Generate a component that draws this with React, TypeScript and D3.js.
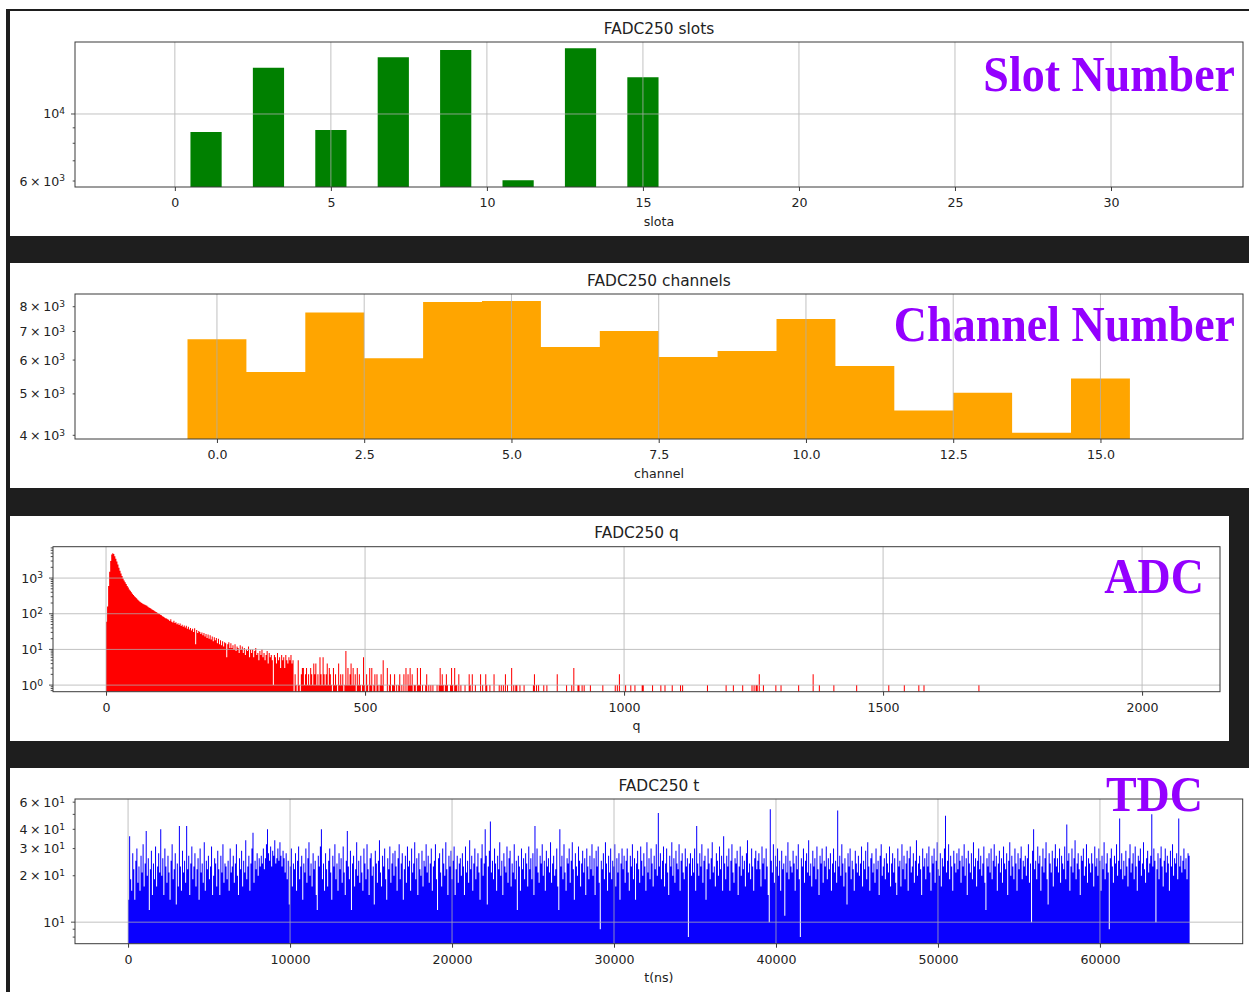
import React, { useEffect, useRef } from "react";
import * as d3 from "d3";

const W = 1249;
const H = 992;

// ---- values ----

// FADC250 slots (only odd slots have hits)
const slotIds = [1, 3, 5, 7, 9, 11, 13, 15];
const slotCounts = [8710, 14230, 8850, 15410, 16300, 6040, 16500, 13230];
const slotTicks = [0, 5, 10, 15, 20, 25, 30];
const slotYLabels = [6000, 10000];

// FADC250 channels
const channelIds = [0, 1, 2, 3, 4, 5, 6, 7, 8, 9, 10, 11, 12, 13, 14, 15];
const channelCounts = [6710, 5630, 7750, 6060, 8200, 8250, 6440, 7020, 6100, 6300, 7490, 5810, 4570, 5030, 4055, 5430];
const channelTicks = [0, 2.5, 5, 7.5, 10, 12.5, 15];
const channelYLabels = [4000, 5000, 6000, 7000, 8000];

// FADC250 q : bins of width 2 starting at q = 0
const adcBinWidth = 2;
const adcCounts = [
  60, 160, 600, 1500, 3000, 4600, 4950, 4700, 4100, 3500,
  2900, 2400, 1950, 1600, 1350, 1150, 980, 860, 760, 680,
  600, 540, 480, 440, 400, 365, 335, 310, 290, 270,
  250, 235, 220, 210, 200, 190, 185, 178, 172, 168,
  158, 150, 146, 139, 131, 128, 121, 116, 112, 107,
  101, 99, 94, 90, 85, 83, 78, 75, 74, 70,
  68, 63, 70, 60, 57, 64, 55, 58, 51, 54,
  48, 53, 45, 49, 43, 47, 41, 46, 38, 43,
  36, 40, 34, 38, 31, 39, 14, 35, 29, 33,
  31, 27, 30, 25, 29, 23, 27, 21, 26, 20,
  25, 19, 23, 17, 22, 18, 21, 15, 20, 14,
  18, 13, 17, 12, 16, 15, 6, 14, 16, 11,
  15, 11, 13, 10, 14, 9, 12, 11, 8, 13,
  10, 12, 8, 11, 7, 10, 9, 12, 6, 10,
  8, 10, 6, 9, 11, 7, 8, 5, 9, 7,
  10, 6, 8, 5, 7, 9, 4, 8, 6, 7,
  5, 1, 7, 6, 4, 8, 5, 6, 3, 7,
  5, 6, 3, 7, 5, 4, 6, 5, 7, 4, 5,
  0, 2, 1, 0, 5, 1, 0, 2, 3, 3,
  1, 2, 3, 1, 2, 1, 3, 2, 1, 4,
  2, 4, 1, 2, 1, 6, 2, 1, 6, 2,
  1, 2, 4, 1, 3, 2, 1, 0, 3, 1,
  2, 1, 0, 4, 1, 2, 1, 2, 0, 1,
  9, 1, 3, 1, 2, 4, 1, 3, 1, 2,
  0, 3, 1, 2, 1, 0, 1, 6, 1, 0,
  2, 1, 0, 3, 1, 3, 0, 1, 2, 0,
  2, 1, 0, 1,
];
// sparse tail above q = 530 : [q, count]
const adcTail = [
  [530, 2], [532, 1], [534, 5], [542, 3], [546, 1], [548, 2], [552, 1], [554, 1], [556, 2], [560, 1],
  [564, 1], [566, 2], [570, 1], [574, 2], [578, 3], [582, 2], [584, 1], [586, 3], [588, 1], [590, 2],
  [594, 1], [596, 1], [600, 3], [602, 1], [604, 1], [606, 3], [610, 1], [616, 1], [618, 2], [622, 1],
  [626, 1], [630, 1], [638, 1], [642, 1], [644, 3], [646, 1], [648, 2], [650, 1], [654, 1], [656, 2],
  [658, 1], [664, 1], [666, 3], [668, 1], [672, 3], [674, 1], [676, 1], [680, 2], [684, 1], [692, 1],
  [700, 2], [702, 1], [706, 2], [712, 1], [722, 2], [726, 1], [732, 2], [734, 1], [740, 1], [748, 2],
  [758, 1], [762, 1], [766, 1], [770, 2], [774, 1], [782, 3], [786, 1], [790, 1], [792, 1], [798, 1],
  [806, 1], [824, 1], [826, 2], [830, 1], [834, 1], [844, 1], [850, 1], [870, 2], [888, 1], [898, 1],
  [902, 3], [910, 1], [912, 1], [918, 1], [922, 1], [934, 1], [958, 1], [982, 1], [986, 1], [990, 2],
  [1002, 1], [1012, 1], [1020, 1], [1034, 1], [1036, 1], [1054, 1], [1070, 1], [1078, 1], [1092, 1], [1108, 1],
  [1112, 1], [1160, 1], [1196, 1], [1210, 1], [1228, 1], [1246, 1], [1250, 1], [1254, 1], [1256, 1], [1260, 2],
  [1268, 1], [1292, 1], [1302, 1], [1336, 1], [1364, 2], [1376, 1], [1404, 1], [1448, 1], [1510, 1], [1540, 1],
  [1568, 1], [1578, 1], [1684, 1],
];
const adcTicks = [0, 500, 1000, 1500, 2000];
const adcYLabels = [1, 10, 100, 1000];

// FADC250 t : 1024 bins of width 64 ns
const tdcBinWidth = 64;
const tdcCounts = [
  14, 36, 19, 16, 28, 22, 14, 25, 30, 18, 23, 16, 27, 21, 32, 17, 24, 39, 20, 26, 12, 22, 29, 15, 24, 19, 31, 17, 23, 28, 21, 40,
  20, 26, 15, 30, 23, 18, 27, 21, 14, 25, 32, 19, 22, 28, 13, 24, 17, 42, 23, 16, 29, 21, 25, 18, 42, 22, 27, 15, 24, 31, 19, 23,
  28, 17, 22, 26, 14, 30, 21, 24, 18, 33, 16, 25, 22, 27, 19, 23, 31, 15, 20, 26, 24, 17, 29, 22, 15, 27, 21, 32, 18, 24, 23, 19,
  25, 16, 30, 21, 23, 27, 18, 24, 32, 20, 15, 26, 22, 29, 17, 25, 21, 34, 19, 23, 27, 16, 24, 30, 38, 18, 25, 22, 28, 20, 26, 23,
  27, 24, 30, 22, 26, 32, 40, 28, 25, 31, 23, 29, 27, 34, 24, 26, 30, 25, 33, 27, 23, 29, 26, 21, 28, 19, 25, 13, 23, 30, 17, 24,
  22, 28, 16, 25, 31, 19, 23, 27, 14, 24, 21, 30, 18, 26, 33, 20, 24, 17, 28, 22, 25, 15, 12, 27, 23, 31, 40, 19, 24, 16, 28, 22,
  17, 25, 30, 21, 14, 27, 23, 32, 19, 24, 16, 28, 22, 26, 18, 31, 21, 15, 25, 39, 23, 19, 29, 12, 24, 27, 17, 22, 33, 20, 25, 18,
  27, 21, 16, 30, 24, 19, 32, 22, 15, 26, 28, 20, 23, 13, 29, 24, 18, 25, 34, 21, 17, 27, 23, 30, 19, 14, 26, 22, 31, 18, 24, 28,
  20, 29, 23, 16, 26, 32, 19, 24, 28, 14, 22, 27, 18, 31, 23, 25, 16, 30, 21, 24, 33, 19, 26, 15, 28, 22, 20, 29, 17, 25, 23, 32,
  21, 27, 18, 24, 30, 16, 23, 25, 32, 19, 12, 26, 28, 21, 17, 30, 24, 20, 33, 22, 15, 27, 23, 29, 19, 25, 31, 15, 22, 27, 18, 24,
  26, 20, 28, 23, 15, 31, 21, 25, 18, 34, 22, 27, 16, 24, 30, 19, 23, 28, 21, 14, 26, 32, 20, 24, 40, 27, 13, 23, 29, 45, 21, 25,
  19, 30, 24, 16, 27, 22, 33, 20, 25, 15, 28, 23, 21, 31, 18, 26, 29, 17, 24, 21, 32, 19, 25, 12, 27, 23, 16, 30, 22, 26, 19, 28,
  24, 17, 31, 22, 26, 19, 28, 15, 42, 23, 30, 21, 18, 27, 24, 32, 20, 25, 16, 29, 23, 26, 21, 33, 18, 24, 27, 20, 22, 30, 17, 12,
  40, 23, 27, 19, 32, 21, 16, 26, 24, 30, 18, 25, 33, 22, 14, 28, 23, 20, 31, 25, 17, 24, 29, 21, 26, 15, 30, 23, 19, 27, 22, 32,
  20, 26, 15, 29, 23, 31, 18, 9, 25, 22, 28, 19, 33, 24, 16, 27, 21, 30, 19, 25, 23, 32, 17, 26, 21, 28, 14, 24, 30, 22, 27, 18,
  25, 30, 21, 16, 27, 23, 32, 19, 26, 14, 24, 29, 22, 18, 31, 25, 20, 28, 23, 16, 33, 21, 26, 19, 30, 24, 17, 27, 22, 32, 20, 51,
  23, 28, 19, 25, 31, 17, 24, 30, 21, 15, 27, 23, 33, 20, 26, 18, 29, 24, 22, 32, 16, 25, 28, 21, 19, 30, 23, 26, 8, 24, 28, 20,
  26, 21, 30, 16, 42, 24, 20, 28, 23, 32, 18, 25, 27, 14, 22, 30, 24, 19, 26, 33, 21, 23, 17, 28, 25, 20, 31, 22, 27, 16, 36, 24,
  19, 27, 23, 30, 16, 25, 32, 21, 18, 26, 24, 29, 15, 23, 31, 20, 27, 22, 25, 17, 28, 34, 21, 24, 19, 30, 23, 16, 26, 29, 22, 25,
  28, 22, 17, 31, 24, 26, 19, 30, 23, 15, 10, 54, 25, 21, 32, 18, 27, 23, 30, 20, 25, 16, 29, 22, 24, 11, 27, 21, 33, 19, 25, 23,
  21, 29, 24, 16, 27, 22, 32, 19, 8, 26, 23, 30, 18, 25, 28, 21, 34, 20, 24, 17, 29, 23, 26, 19, 31, 22, 15, 27, 24, 30, 18, 25,
  23, 31, 19, 26, 22, 28, 16, 24, 30, 21, 25, 18, 53, 23, 27, 20, 32, 24, 17, 26, 21, 13, 28, 23, 30, 19, 25, 22, 16, 29, 24, 21,
  27, 20, 24, 31, 17, 25, 22, 29, 19, 33, 23, 16, 26, 28, 21, 24, 18, 30, 22, 25, 15, 27, 32, 20, 23, 26, 19, 28, 24, 21, 31, 17,
  24, 28, 21, 26, 18, 15, 30, 23, 25, 17, 32, 22, 27, 19, 24, 29, 16, 26, 31, 21, 23, 28, 18, 25, 34, 20, 24, 27, 22, 15, 30, 23,
  26, 19, 28, 23, 31, 21, 16, 27, 24, 30, 18, 25, 33, 22, 20, 28, 17, 26, 23, 30, 49, 21, 25, 32, 19, 27, 23, 16, 29, 24, 21, 28,
  22, 30, 25, 18, 27, 23, 32, 20, 26, 15, 29, 24, 21, 28, 19, 33, 23, 26, 17, 25, 30, 22, 27, 20, 24, 31, 18, 12, 26, 23, 28, 21,
  30, 19, 25, 32, 23, 27, 16, 24, 29, 21, 26, 18, 31, 24, 22, 28, 15, 25, 33, 20, 27, 23, 19, 30, 24, 16, 28, 22, 26, 31, 19, 25,
  23, 27, 20, 26, 32, 18, 24, 10, 29, 40, 22, 25, 19, 31, 24, 27, 16, 23, 30, 21, 26, 33, 19, 13, 28, 24, 21, 29, 17, 26, 32, 23,
  26, 21, 30, 18, 27, 24, 22, 31, 19, 43, 25, 28, 16, 23, 30, 21, 26, 34, 19, 24, 28, 22, 15, 27, 25, 30, 20, 23, 32, 18, 26, 24,
  21, 28, 24, 17, 31, 23, 26, 20, 30, 25, 16, 27, 22, 33, 19, 24, 28, 21, 9, 26, 30, 23, 18, 27, 24, 32, 20, 25, 47, 22, 28, 19,
  25, 20, 29, 23, 17, 26, 32, 21, 24, 28, 19, 31, 23, 16, 27, 25, 30, 20, 24, 33, 22, 18, 26, 29, 21, 24, 27, 50, 23, 30, 25, 10,
  22, 28, 19, 26, 31, 23, 17, 25, 30, 21, 27, 24, 16, 29, 23, 32, 20, 26, 24, 28, 19, 47, 23, 27, 21, 25, 30, 22, 26, 19, 28, 27,
];
const tdcTicks = [0, 10000, 20000, 30000, 40000, 50000, 60000];
const tdcYLabels = [10, 20, 30, 40, 60];

// ---- layout ----
const FONT = "DejaVu Sans, sans-serif";
const TEXT = "#222222";
const SPINE = "#3a3a3a";
const GRID = "#b0b0b0";
const PURPLE = "#9400ff";
const TICK_FS = 12.6;
const TITLE_FS = 15.4;

const panels = [
  {
    title: "FADC250 slots", xlabel: "slota", tag: "Slot Number", tagX: 1235, tagY: 91,
    color: "#008000", box: [10, 11, 1249, 236], plot: [75, 42, 1243, 187],
    xDomain: [-3.2, 34.23], yDomain: [5733, 17310], xTicks: slotTicks, xFmt: (d) => String(d),
    yLabels: slotYLabels,
    bins: slotIds.map((s, i) => ({ x0: s - 0.5, x1: s + 0.5, n: slotCounts[i] })),
  },
  {
    title: "FADC250 channels", xlabel: "channel", tag: "Channel Number", tagX: 1235, tagY: 341,
    color: "#ffa500", box: [10, 263, 1249, 488], plot: [75, 294, 1243, 439],
    xDomain: [-2.41, 17.42], yDomain: [3921, 8567], xTicks: channelTicks, xFmt: d3.format(".1f"),
    yLabels: channelYLabels,
    bins: channelIds.map((c, i) => ({ x0: c - 0.5, x1: c + 0.5, n: channelCounts[i] })),
  },
  {
    title: "FADC250 q", xlabel: "q", tag: "ADC", tagX: 1204, tagY: 593,
    color: "#ff0000", box: [10, 516, 1229, 741], plot: [53, 546.7, 1220, 691.7],
    xDomain: [-102.4, 2150.4], yDomain: [0.653, 7570], xTicks: adcTicks, xFmt: (d) => String(d),
    yLabels: adcYLabels,
    bins: adcCounts
      .map((n, i) => ({ x0: i * adcBinWidth, x1: (i + 1) * adcBinWidth, n }))
      .concat(adcTail.map(([q, n]) => ({ x0: q, x1: q + adcBinWidth, n }))),
  },
  {
    title: "FADC250 t", xlabel: "t(ns)", tag: "TDC", tagX: 1203, tagY: 811,
    color: "#0a00ff", box: [10, 768, 1249, 992], plot: [75, 799, 1242.7, 943.7],
    xDomain: [-3276.8, 68812.8], yDomain: [7.25, 62.9], xTicks: tdcTicks, xFmt: (d) => String(d),
    yLabels: tdcYLabels,
    bins: tdcCounts.map((n, i) => ({ x0: i * tdcBinWidth, x1: (i + 1) * tdcBinWidth, n })),
  },
];

function logLabel(sel, v) {
  const e = Math.floor(Math.log10(v) + 1e-9);
  const m = Math.round(v / Math.pow(10, e));
  sel.append("tspan").text(m === 1 ? "10" : `${m}\u2009×\u200910`);
  sel.append("tspan").attr("dy", "-0.45em").attr("font-size", "0.72em").text(String(e));
}

const App = () => {
  const svgRef = useRef(null);

  useEffect(() => {
    const svg = d3.select(svgRef.current);
    svg.selectAll("*").remove();

    // screenshot frame: dark page with white figure panels
    svg.append("rect").attr("width", W).attr("height", H).attr("fill", "#ffffff");
    svg.append("rect").attr("x", 6).attr("y", 9).attr("width", W - 6).attr("height", H - 9).attr("fill", "#1e1e1e");

    panels.forEach((p, pi) => {
      const [bx0, by0, bx1, by1] = p.box;
      const [left, top, right, bottom] = p.plot;
      svg.append("rect").attr("x", bx0).attr("y", by0).attr("width", bx1 - bx0).attr("height", by1 - by0).attr("fill", "#fff");

      const x = d3.scaleLinear().domain(p.xDomain).range([left, right]);
      const y = d3.scaleLog().domain(p.yDomain).range([bottom, top]);

      const clipId = `clip${pi}`;
      svg.append("clipPath").attr("id", clipId)
        .append("rect").attr("x", left).attr("y", top).attr("width", right - left).attr("height", bottom - top);

      const g = svg.append("g");

      // histogram bars as one path (no seams between adjacent bins)
      const d = p.bins
        .filter((b) => b.n > 0)
        .map((b) => `M${x(b.x0)},${bottom}V${y(b.n)}H${x(b.x1)}V${bottom}Z`)
        .join("");
      g.append("path").attr("d", d).attr("fill", p.color).attr("clip-path", `url(#${clipId})`);

      // grid (drawn over the bars, like the original)
      const [lo, hi] = p.yDomain;
      const yTicks = [];
      for (let e = Math.floor(Math.log10(lo)); e <= Math.ceil(Math.log10(hi)); e++) {
        for (let m = 1; m < 10; m++) {
          const v = m * Math.pow(10, e);
          if (v >= lo && v <= hi) yTicks.push({ v, major: m === 1 });
        }
      }
      const grid = g.append("g").attr("stroke", GRID).attr("stroke-width", 0.9).attr("opacity", 0.85);
      p.xTicks.forEach((t) => {
        grid.append("line").attr("x1", x(t)).attr("x2", x(t)).attr("y1", top).attr("y2", bottom);
      });
      yTicks.filter((t) => t.major).forEach((t) => {
        grid.append("line").attr("x1", left).attr("x2", right).attr("y1", y(t.v)).attr("y2", y(t.v));
      });

      // spines
      g.append("rect")
        .attr("x", left).attr("y", top).attr("width", right - left).attr("height", bottom - top)
        .attr("fill", "none").attr("stroke", SPINE).attr("stroke-width", 1);

      // x axis
      const xAxis = g.append("g")
        .attr("transform", `translate(0,${bottom})`)
        .attr("color", SPINE)
        .call(d3.axisBottom(x).tickValues(p.xTicks).tickFormat(p.xFmt).tickSize(4).tickSizeOuter(0).tickPadding(7));
      xAxis.select(".domain").remove();
      xAxis.selectAll("text").attr("font-size", TICK_FS).attr("font-family", FONT).attr("fill", TEXT);

      // y axis (log, with minor ticks)
      const yAxis = g.append("g").attr("stroke", SPINE).attr("stroke-width", 0.9);
      yTicks.forEach((t) => {
        yAxis.append("line")
          .attr("x1", left - (t.major ? 4 : 2.3)).attr("x2", left)
          .attr("y1", y(t.v)).attr("y2", y(t.v));
      });
      p.yLabels.forEach((v) => {
        const txt = g.append("text")
          .attr("x", left - 10).attr("y", y(v) + 4.5)
          .attr("text-anchor", "end")
          .attr("font-family", FONT).attr("font-size", TICK_FS).attr("fill", TEXT);
        logLabel(txt, v);
      });

      // title and axis label
      g.append("text")
        .attr("x", (left + right) / 2).attr("y", top - 8.5)
        .attr("text-anchor", "middle").attr("font-family", FONT).attr("font-size", TITLE_FS).attr("fill", TEXT)
        .text(p.title);
      g.append("text")
        .attr("x", (left + right) / 2).attr("y", bottom + 38.5)
        .attr("text-anchor", "middle").attr("font-family", FONT).attr("font-size", TICK_FS).attr("fill", TEXT)
        .text(p.xlabel);

      // big purple annotation
      g.append("text")
        .attr("transform", `translate(${p.tagX},${p.tagY}) scale(1,1.12)`)
        .attr("text-anchor", "end")
        .attr("font-family", "Liberation Serif, Times New Roman, serif")
        .attr("font-weight", "bold").attr("font-size", 46).attr("fill", PURPLE)
        .text(p.tag);
    });
  }, []);

  return (
    <svg
      ref={svgRef}
      width={W}
      height={H}
      style={{ position: "absolute", left: 0, top: 0, display: "block" }}
    ></svg>
  );
};

export default App;
